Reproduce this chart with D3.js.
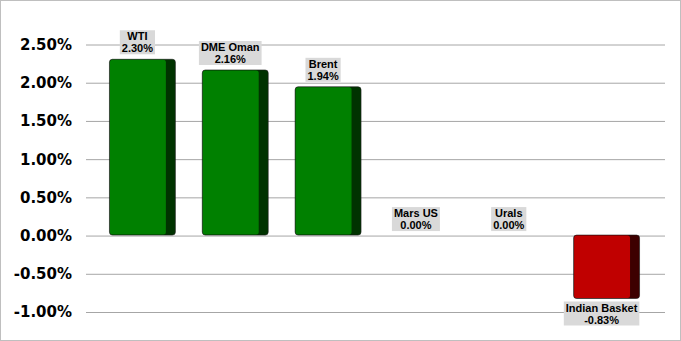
<!DOCTYPE html>
<html><head><meta charset="utf-8">
<script src="https://cdn.jsdelivr.net/npm/d3@7"></script>
<style>body{margin:0;background:#fff}svg{display:block}</style>
</head><body>
<script>
const categories = ["WTI", "DME Oman", "Brent", "Mars US", "Urals", "Indian Basket"];
const values = [2.30, 2.16, 1.94, 0.00, 0.00, -0.83];
const tickValues = [-1.0, -0.5, 0.0, 0.5, 1.0, 1.5, 2.0, 2.5];

const W = 681, H = 341;
const fmt = d3.formatLocale({decimal: ".", thousands: ",", grouping: [3], currency: ["", ""], minus: "-"}).format(".2f");
const svg = d3.select("body").append("svg").attr("width", W).attr("height", H);
svg.append("rect").attr("x", 0.5).attr("y", 0.5).attr("width", W - 1).attr("height", H - 1)
  .attr("fill", "#fff").attr("stroke", "#bfbfbf");

const y = d3.scaleLinear().domain([-1.0, 2.5]).range([311.5, 44]);
const x = d3.scaleBand().domain(categories).range([96, 653]).paddingInner(0.29).paddingOuter(0.145);
const gridX0 = 86, gridX1 = 665;

const yAxis = d3.axisLeft(y).tickValues(tickValues).tickSize(-(gridX1 - gridX0)).tickPadding(14)
  .tickFormat(d => fmt(d) + "%");
const ga = svg.append("g").attr("transform", `translate(${gridX0},0)`).call(yAxis);
ga.select(".domain").remove();
ga.selectAll(".tick line").attr("stroke", "#a6a6a6").attr("stroke-width", 1)
  .attr("transform", "translate(0,0.5)");
ga.selectAll(".tick text").attr("font-family", "DejaVu Sans, Verdana, sans-serif")
  .attr("font-weight", "bold").attr("font-size", 15).attr("fill", "#000").attr("dy", "0.36em");

const side = 10;
const data = categories.map((c, i) => ({c, v: values[i]}));
const bars = svg.append("g");
data.forEach(d => {
  if (d.v === 0) return;
  const pos = d.v > 0;
  const top = y(Math.max(0, d.v)), bot = y(Math.min(0, d.v));
  const x0 = x(d.c), bw = x.bandwidth();
  const front = pos ? "#008000" : "#c00000";
  const dark = pos ? "#003300" : "#3d0000";
  bars.append("rect").attr("x", x0).attr("y", top).attr("width", bw).attr("height", bot - top)
    .attr("rx", 3).attr("fill", dark).attr("stroke", "#1a1a1a").attr("stroke-width", 0.6);
  bars.append("rect").attr("x", x0 + 0.5).attr("y", top + 0.5).attr("width", bw - side).attr("height", bot - top - 1)
    .attr("rx", 2.5).attr("fill", front);
});

const lab = svg.append("g").attr("font-family", "Liberation Sans, Arial, sans-serif")
  .attr("font-weight", "bold").attr("font-size", 11).attr("fill", "#000");
data.forEach(d => {
  const cx = x(d.c) + (x.bandwidth() - side) / 2;
  const l1 = d.c, l2 = fmt(d.v) + "%";
  const g = lab.append("g");
  const t1 = g.append("text").attr("x", cx).attr("text-anchor", "middle").text(l1);
  const t2 = g.append("text").attr("x", cx).attr("text-anchor", "middle").text(l2);
  const w = Math.max(t1.node().getComputedTextLength(), t2.node().getComputedTextLength()) + 4;
  const bh = 24;
  let boxTop;
  if (d.v > 0) boxTop = y(d.v) - 5 - bh;
  else if (d.v === 0) boxTop = y(0) - 4 - bh;
  else boxTop = y(d.v) + 3;
  t1.attr("y", boxTop + 10);
  t2.attr("y", boxTop + 22);
  g.insert("rect", "text").attr("x", cx - w / 2).attr("y", boxTop).attr("width", w).attr("height", bh)
    .attr("fill", "#d9d9d9");
});
</script>
</body></html>
